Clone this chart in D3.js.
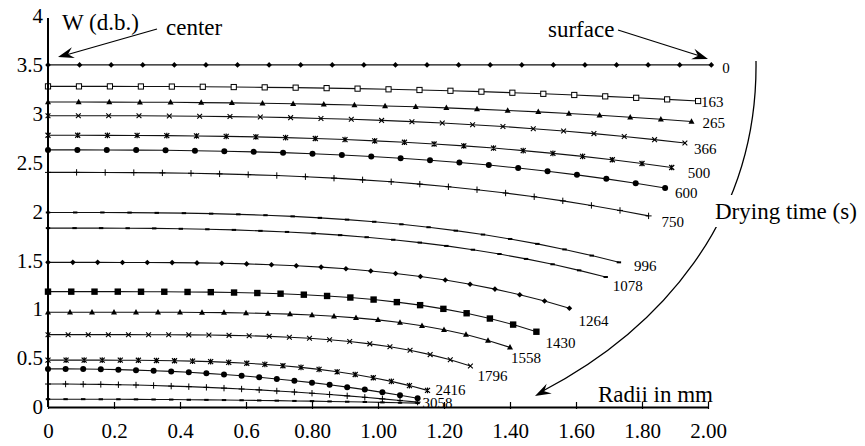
<!DOCTYPE html>
<html><head><meta charset="utf-8">
<script src="https://cdn.jsdelivr.net/npm/d3@7/dist/d3.min.js"></script>
<style>
html,body{margin:0;padding:0;background:#fff;}
svg{display:block;font-family:"Liberation Serif","Times New Roman",serif;}
</style></head>
<body>
<svg id="chart" width="865" height="446"></svg>
<script>
// ---------- DATA ----------
const xTickValues = [0, 0.2, 0.4, 0.6, 0.8, 1.0, 1.2, 1.4, 1.6, 1.8, 2.0];
const xTickLabels = ["0", "0.2", "0.4", "0.6", "0.80", "1.00", "1.20", "1.40", "1.60", "1.80", "2.00"];
const yTickValues = [0, 0.5, 1, 1.5, 2, 2.5, 3, 3.5, 4];
const yTickLabels = ["0", "0.5", "1", "1.5", "2", "2.5", "3", "3.5", "4"];

// drying times (s); two curves carry no label in the figure
const dryingTimes = ["0", "163", "265", "366", "500", "600", "750", "996", "1078", "1264", "1430", "1558", "1796", "2416", "", "", "3058"];
// outer (surface) radius of the sample at each time, mm; 22 equally spaced nodes from 0 to it
const surfaceRadius = [2.01, 1.97, 1.95, 1.93, 1.89, 1.87, 1.82, 1.73, 1.69, 1.58, 1.48, 1.40, 1.28, 1.15, 1.12, 1.12, 1.12];

// moisture content W (d.b.) at the 22 nodes, centre -> surface
const w_0    = [3.5,3.5,3.5,3.5,3.5,3.5,3.5,3.5,3.5,3.5,3.5,3.5,3.5,3.5,3.5,3.5,3.5,3.5,3.5,3.5,3.5,3.5];
const w_163  = [3.280,3.280,3.280,3.279,3.278,3.276,3.273,3.270,3.267,3.262,3.257,3.250,3.243,3.235,3.226,3.215,3.204,3.192,3.178,3.163,3.147,3.130];
const w_265  = [3.120,3.120,3.119,3.118,3.117,3.114,3.111,3.107,3.102,3.096,3.089,3.080,3.071,3.060,3.047,3.034,3.019,3.002,2.984,2.964,2.943,2.920];
const w_366  = [2.980,2.980,2.979,2.979,2.977,2.974,2.971,2.966,2.960,2.952,2.943,2.932,2.919,2.905,2.888,2.869,2.847,2.823,2.797,2.767,2.735,2.700];
const w_500  = [2.780,2.780,2.779,2.778,2.776,2.773,2.769,2.763,2.756,2.747,2.736,2.723,2.708,2.691,2.671,2.649,2.623,2.595,2.564,2.529,2.491,2.450];
const w_600  = [2.630,2.630,2.629,2.628,2.626,2.622,2.617,2.610,2.602,2.591,2.578,2.563,2.545,2.525,2.501,2.475,2.445,2.412,2.375,2.334,2.289,2.240];
const w_750  = [2.400,2.400,2.399,2.398,2.395,2.391,2.385,2.377,2.368,2.356,2.341,2.324,2.304,2.280,2.253,2.223,2.189,2.151,2.109,2.062,2.011,1.955];
const w_996  = [1.990,1.990,1.990,1.989,1.986,1.983,1.978,1.971,1.962,1.950,1.935,1.917,1.895,1.869,1.839,1.804,1.764,1.719,1.669,1.612,1.549,1.480];
const w_1078 = [1.830,1.830,1.830,1.829,1.827,1.823,1.818,1.812,1.802,1.791,1.776,1.758,1.737,1.711,1.682,1.648,1.609,1.565,1.515,1.460,1.398,1.330];
const w_1264 = [1.480,1.480,1.480,1.479,1.479,1.477,1.474,1.470,1.464,1.456,1.445,1.431,1.414,1.392,1.366,1.335,1.299,1.256,1.206,1.149,1.084,1.010];
const w_1430 = [1.180,1.180,1.180,1.180,1.179,1.179,1.177,1.175,1.171,1.166,1.159,1.149,1.136,1.120,1.099,1.073,1.042,1.004,0.959,0.905,0.843,0.770];
const w_1558 = [0.970,0.970,0.970,0.970,0.970,0.969,0.969,0.967,0.965,0.962,0.957,0.950,0.941,0.928,0.912,0.891,0.864,0.831,0.790,0.741,0.681,0.610];
const w_1796 = [0.740,0.740,0.740,0.740,0.740,0.739,0.739,0.738,0.736,0.733,0.729,0.723,0.714,0.703,0.688,0.670,0.646,0.616,0.580,0.536,0.483,0.420];
const w_2416 = [0.480,0.480,0.480,0.480,0.479,0.478,0.476,0.473,0.469,0.464,0.457,0.448,0.436,0.422,0.405,0.385,0.360,0.332,0.299,0.262,0.219,0.170];
const w_circ = [0.390,0.390,0.388,0.386,0.382,0.377,0.371,0.364,0.355,0.344,0.332,0.319,0.304,0.287,0.269,0.249,0.227,0.203,0.178,0.150,0.121,0.090];
const w_plus = [0.235,0.235,0.233,0.231,0.228,0.225,0.220,0.214,0.208,0.201,0.193,0.184,0.175,0.164,0.153,0.141,0.128,0.114,0.099,0.083,0.067,0.050];
const w_3058 = [0.080,0.080,0.080,0.079,0.079,0.078,0.077,0.076,0.074,0.073,0.071,0.069,0.067,0.065,0.062,0.060,0.057,0.054,0.051,0.047,0.044,0.040];

const seriesValues = [w_0,w_163,w_265,w_366,w_500,w_600,w_750,w_996,w_1078,w_1264,w_1430,w_1558,w_1796,w_2416,w_circ,w_plus,w_3058];

// ---------- STYLE / LAYOUT ----------
const markerTypes = ["diamond","squareOpen","triangle","cross","star","circle","plus","dash","dash","diamond","square","triangle","cross","star","circle","plus","dash"];
const labelNudge = [[11,3],[3,1],[11,1],[9,6],[16,5],[10,5],[13,6],[15,3],[7,9],[9,12],[9,11],[1,10],[7,10],[8,-1],[0,0],[0,0],[5,0]];

const svg = d3.select("#chart");
const x = d3.scaleLinear().domain([0, 2]).range([48, 708]);
const y = d3.scaleLinear().domain([0, 4]).range([407, 16]);

// curves
const line = d3.line().x(d => x(d[0])).y(d => y(d[1]));
const gSeries = svg.append("g");

function marker(g, type, cx, cy) {
  const s = g.append("g").attr("transform", `translate(${cx},${cy})`);
  switch (type) {
    case "diamond":
      s.append("path").attr("d", "M0,-2.8L2.8,0L0,2.8L-2.8,0Z").attr("fill", "#000"); break;
    case "squareOpen":
      s.append("rect").attr("x", -2.6).attr("y", -2.6).attr("width", 5.2).attr("height", 5.2)
        .attr("fill", "#fff").attr("stroke", "#000").attr("stroke-width", 1); break;
    case "square":
      s.append("rect").attr("x", -3.2).attr("y", -3.2).attr("width", 6.4).attr("height", 6.4).attr("fill", "#000"); break;
    case "triangle":
      s.append("path").attr("d", "M0,-3.3L3,2.2L-3,2.2Z").attr("fill", "#000"); break;
    case "cross":
      s.append("path").attr("d", "M-2.4,-2.4L2.4,2.4M-2.4,2.4L2.4,-2.4").attr("stroke", "#000").attr("stroke-width", 1.1); break;
    case "star":
      s.append("path").attr("d", "M-2.5,-2.5L2.5,2.5M-2.5,2.5L2.5,-2.5M0,-2.8L0,2.8").attr("stroke", "#000").attr("stroke-width", 1.2); break;
    case "circle":
      s.append("circle").attr("r", 3).attr("fill", "#000"); break;
    case "plus":
      s.append("path").attr("d", "M0,-3.2L0,3.2M-3,0L3,0").attr("stroke", "#000").attr("stroke-width", 1); break;
    case "dash":
      s.append("path").attr("d", "M-2.2,0L2.2,0").attr("stroke", "#000").attr("stroke-width", 2); break;
  }
}

seriesValues.forEach((vals, k) => {
  const R = surfaceRadius[k];
  const n = vals.length - 1;
  const pts = vals.map((w, i) => [R * i / n, w]);
  gSeries.append("path").attr("d", line(pts)).attr("fill", "none")
    .attr("stroke", "#111").attr("stroke-width", 1.1);
  pts.forEach(p => marker(gSeries, markerTypes[k], x(p[0]), y(p[1])));
  if (dryingTimes[k]) {
    const last = pts[pts.length - 1];
    svg.append("text").attr("x", x(last[0]) + labelNudge[k][0]).attr("y", y(last[1]) + labelNudge[k][1])
      .attr("dy", "0.35em").attr("font-size", 15).attr("fill", "#000").text(dryingTimes[k]);
  }
});

// axes
const xAxis = d3.axisBottom(x).tickValues(xTickValues).tickFormat((d, i) => xTickLabels[i])
  .tickSizeInner(-5).tickSizeOuter(0).tickPadding(16);
const gx = svg.append("g").attr("transform", `translate(0,${y(0)})`).call(xAxis);
gx.select(".domain").attr("stroke", "#000").attr("stroke-width", 2);
gx.selectAll(".tick line").attr("y1", 2).attr("y2", -5).attr("stroke", "#000").attr("stroke-width", 1.2);
gx.selectAll(".tick text").attr("font-size", 21).attr("font-family", "Liberation Serif, Times New Roman, serif").attr("fill", "#000");

const yAxis = d3.axisLeft(y).tickValues(yTickValues).tickFormat((d, i) => yTickLabels[i])
  .tickSize(0).tickPadding(5);
const gy = svg.append("g").attr("transform", `translate(${x(0)},0)`).call(yAxis);
gy.select(".domain").attr("stroke", "#000").attr("stroke-width", 2).attr("d", `M0,${y(0)}V${y(3.98)}`);
gy.selectAll(".tick text").attr("font-size", 21).attr("font-family", "Liberation Serif, Times New Roman, serif").attr("fill", "#000");

// annotations
const ann = svg.append("g").attr("font-size", 23).attr("fill", "#000");
ann.append("text").attr("x", 62).attr("y", 30).text("W (d.b.)");
ann.append("text").attr("x", 166).attr("y", 35).text("center");
ann.append("text").attr("x", 548).attr("y", 37).text("surface");
ann.append("text").attr("x", 598).attr("y", 402).text("Radii in mm");

function arrowHead(tip, from, len, half) {
  const dx = tip[0] - from[0], dy = tip[1] - from[1];
  const L = Math.hypot(dx, dy), ux = dx / L, uy = dy / L;
  const bx = tip[0] - ux * len, by = tip[1] - uy * len;
  const mx = tip[0] - ux * len * 0.65, my = tip[1] - uy * len * 0.65;
  return `M${tip[0]},${tip[1]}L${bx - uy * half},${by + ux * half}L${mx},${my}L${bx + uy * half},${by - ux * half}Z`;
}
// center arrow
svg.append("path").attr("d", "M157,29L66,55").attr("stroke", "#000").attr("stroke-width", 1.2);
svg.append("path").attr("d", arrowHead([58, 57], [157, 29], 16, 5.5)).attr("fill", "#000");
// surface arrow
svg.append("path").attr("d", "M618,30L700,56").attr("stroke", "#000").attr("stroke-width", 1.2);
svg.append("path").attr("d", arrowHead([708, 59], [618, 30], 16, 5.5)).attr("fill", "#000");
// drying-time bracket arc
svg.append("path").attr("d", "M756,61C758,220 660,330 541,392").attr("fill", "none").attr("stroke", "#000").attr("stroke-width", 1.3);
svg.append("path").attr("d", arrowHead([535, 396], [560, 383], 16, 5.5)).attr("fill", "#000");
svg.append("rect").attr("x", 714).attr("y", 195).attr("width", 151).attr("height", 32).attr("fill", "#fff");
ann.append("text").attr("x", 715).attr("y", 219).text("Drying time (s)");
ann.raise();
</script>
</body></html>
